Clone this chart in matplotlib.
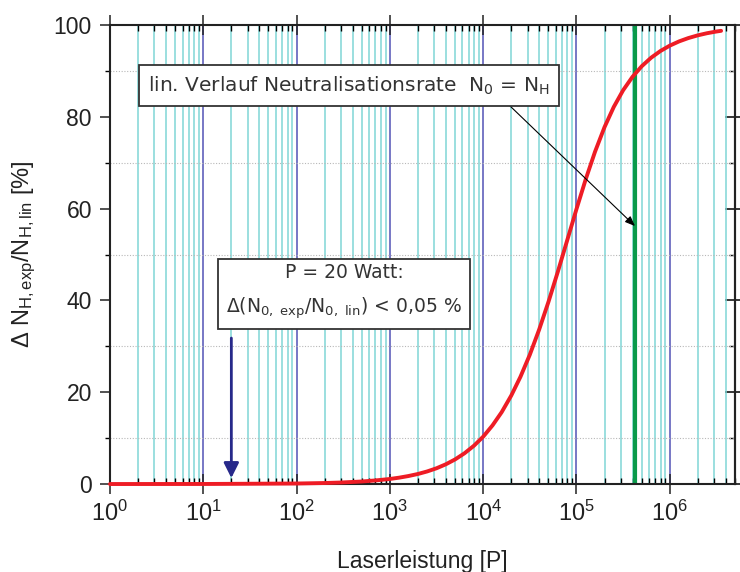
import numpy as np
import matplotlib
matplotlib.use('Agg')
import matplotlib.pyplot as plt
from matplotlib.ticker import LogLocator, MultipleLocator, FixedLocator, FuncFormatter, NullFormatter

plt.rcParams['font.family'] = ['Liberation Sans', 'DejaVu Sans']
plt.rcParams['mathtext.fontset'] = 'custom'
plt.rcParams['mathtext.rm'] = 'Liberation Sans'
plt.rcParams['mathtext.it'] = 'Liberation Sans:italic'
plt.rcParams['mathtext.bf'] = 'Liberation Sans:bold'

# ---- data ----
power = [1, 10, 100, 200, 300, 500, 700,
         1.0e3, 1.26e3, 1.58e3, 2.0e3, 2.51e3, 3.16e3, 3.98e3, 5.01e3, 6.31e3, 7.94e3,
         1.0e4, 1.26e4, 1.58e4, 2.0e4, 2.51e4, 3.16e4, 3.98e4, 5.01e4, 6.31e4, 7.94e4,
         1.0e5, 1.26e5, 1.58e5, 2.0e5, 2.51e5, 3.16e5, 3.98e5, 5.01e5, 6.31e5, 7.94e5,
         1.0e6, 1.26e6, 1.58e6, 2.0e6, 2.51e6, 3.16e6, 3.55e6]
delta = [0.00, 0.01, 0.11, 0.22, 0.33, 0.55, 0.78,
         1.10, 1.39, 1.74, 2.19, 2.74, 3.43, 4.30, 5.37, 6.70, 8.32,
         10.31, 12.78, 15.66, 19.27, 23.36, 28.15, 33.63, 39.68, 46.23, 53.03,
         59.88, 66.46, 72.37, 77.76, 82.14, 85.77, 88.69, 91.02, 92.87, 94.33,
         95.50, 96.43, 97.15, 97.75, 98.21, 98.58, 98.73]
p_marker = 4.24e5          # green vertical line
p_example = 20             # blue arrow position (P = 20 Watt)
x_decades = [0, 1, 2, 3, 4, 5, 6]
y_major = [0, 20, 40, 60, 80, 100]

red = '#ee1c25'
green = '#0a9a4a'
navy = '#27298a'
cyan = '#80d6d6'
violet = '#6c6cc0'

fig = plt.figure(figsize=(7.4, 5.72), dpi=100)
ax = fig.add_axes([0.1486, 0.1538, 0.8446, 0.8025])

ax.set_xscale('log')
ax.set_xlim(1, 5e6)
ax.set_ylim(0, 100)

# grids
ax.set_axisbelow(True)
ax.xaxis.set_major_locator(FixedLocator([10.0 ** d for d in x_decades]))
ax.xaxis.set_minor_locator(LogLocator(base=10, subs=np.arange(2, 10), numticks=50))
ax.xaxis.set_major_formatter(FuncFormatter(lambda v, p: r'$10^{%d}$' % int(round(np.log10(v)))))
ax.xaxis.set_minor_formatter(NullFormatter())
ax.yaxis.set_major_locator(FixedLocator(y_major))
ax.yaxis.set_minor_locator(MultipleLocator(10))

ax.xaxis.grid(True, which='minor', color=cyan, lw=1.1, zorder=0)
ax.xaxis.grid(True, which='major', color=violet, lw=1.3, zorder=0)
ax.yaxis.grid(True, which='minor', color='#b8b8b8', ls=(0, (1, 1.5)), lw=0.8, zorder=0)

# data
ax.axvline(p_marker, color=green, lw=3, zorder=2)
ax.plot(power, delta, color=red, lw=2.8, zorder=3, clip_on=False, solid_capstyle='round')

# ticks
ax.tick_params(axis='x', which='major', direction='inout', length=14, width=1.1,
               top=True, bottom=True, labelsize=17, pad=5, colors='#222222')
ax.tick_params(axis='x', which='minor', direction='in', length=4, width=1.0,
               top=True, bottom=True)
ax.tick_params(axis='y', which='major', direction='out', length=7, width=1.1,
               right=False, labelsize=16.5, pad=6, colors='#222222')
ax.tick_params(axis='y', which='minor', direction='out', length=3.5, width=1.0, right=False)
for s in ax.spines.values():
    s.set_linewidth(1.5)
    s.set_color('#222222')

sec = ax.secondary_yaxis('right')
sec.yaxis.set_major_locator(FixedLocator(y_major))
sec.yaxis.set_minor_locator(MultipleLocator(10))
sec.tick_params(which='major', direction='inout', length=14, width=1.1, labelright=False)
sec.tick_params(which='minor', direction='in', length=4, width=1.0)
sec.spines['right'].set_linewidth(1.5)
sec.spines['right'].set_color('#222222')

ax.set_xlabel('Laserleistung [P]', fontsize=16.5, labelpad=17, color='#222222')
ax.set_ylabel(r'Δ N$_{\mathrm{H,exp}}$/N$_{\mathrm{H,lin}}$ [%]', fontsize=17, color='#222222')
ax.yaxis.set_label_coords(-0.115, 0.5)

# annotations
ax.text(0.3824, 0.868, r'lin. Verlauf Neutralisationsrate  N$_0$ = N$_\mathrm{H}$',
        transform=ax.transAxes, ha='center', va='center', fontsize=14.5,
        family='DejaVu Sans', math_fontfamily='dejavusans',
        color='#333333', zorder=6,
        bbox=dict(boxstyle='square,pad=0.45', fc='white', ec='#333333', lw=1.3))
ax.text(0.3744, 0.418, 'P = 20 Watt:\n' +
        r'Δ(N$_{\mathrm{0,\ exp}}$/N$_{\mathrm{0,\ lin}}$) < 0,05 %',
        transform=ax.transAxes, ha='center', va='center', fontsize=13.5,
        family='DejaVu Sans', math_fontfamily='dejavusans',
        linespacing=1.75, color='#333333', zorder=6,
        bbox=dict(boxstyle='square,pad=0.45', fc='white', ec='#333333', lw=1.3))

ax.annotate('', xy=(p_marker, 56.2), xytext=(1.8e4, 83.0),
            arrowprops=dict(arrowstyle='-|>,head_length=0.5,head_width=0.2', color='black',
                            lw=0.8, mutation_scale=12, shrinkA=0, shrinkB=0), zorder=5)
ax.annotate('', xy=(p_example, 1.3), xytext=(p_example, 31.8),
            arrowprops=dict(arrowstyle='-|>,head_length=0.6,head_width=0.3', color=navy,
                            lw=2, mutation_scale=15, shrinkA=0, shrinkB=0), zorder=5)

fig.savefig('out.png', dpi=100)
